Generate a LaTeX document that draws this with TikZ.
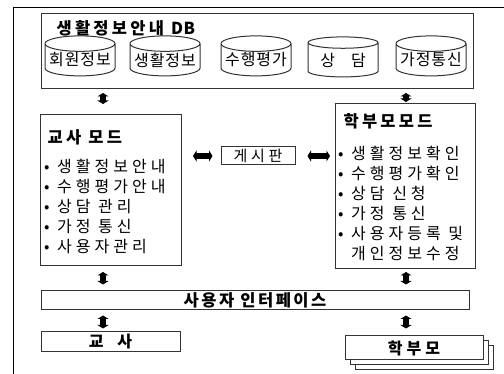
\documentclass[tikz,border=0pt]{standalone}
\usepackage{fontspec}
\setmainfont{Noto Sans CJK KR}
\newfontfamily\krtext[LetterSpace=25]{Noto Sans CJK KR}
\newfontfamily\krcyl[LetterSpace=6]{Noto Sans CJK KR}
\newfontfamily\krhead[LetterSpace=20]{Noto Sans CJK KR}
\newfontfamily\krbar[LetterSpace=15]{Noto Sans CJK KR}
\usetikzlibrary{shapes.geometric,arrows.meta,positioning}

\begin{document}
\begin{tikzpicture}[x=1pt,y=-1pt,
    box/.style={draw=black!80, line width=1pt, inner sep=0pt},
    cyl/.style={cylinder, shape border rotate=90, draw=black!80, line width=1pt,
        minimum width=70pt, minimum height=40pt, aspect=0.25, inner sep=0pt,
        font=\krcyl\fontsize{16}{16}\selectfont},
    head/.style={font=\krhead\bfseries\fontsize{16.5}{16.5}\selectfont},
    items/.style={align=left, inner sep=0pt, font=\krtext\fontsize{16}{20}\selectfont},
    dbl/.style={line width=5.5pt, {Triangle[width=11pt,length=3.5pt]}-{Triangle[width=11pt,length=3.5pt]}}]
    \useasboundingbox (0,0) rectangle (504,374);

    % 바깥 틀
    \draw[line width=1pt] (13,374) -- (13,8) -- (504,8);

    % 데이터베이스
    \node[box, minimum width=432pt, minimum height=75pt, anchor=north west] (db) at (41,13) {};
    \node[head, anchor=west] (dbtitle) at (53,28) {생활정보안내 {\addfontfeature{LetterSpace=2}DB}};
    \foreach \cx/\cname/\ctext in {80/member/회원정보, 165/life/생활정보, 256/perf/수행평가,
        343/consult/상\quad 담, 431/home/가정통신}
    {
        \node[cyl] (\cname) at (\cx,60) {\ctext};
    }

    % 교사 모드
    \node[box, minimum width=141pt, minimum height=151pt, anchor=north west] (teacher) at (40,114) {};
    \node[head, anchor=west] (teachertitle) at (44,137) {교사 모드};
    \node[items, anchor=north west] (teacheritems) at (44,159)
        {• 생활정보안내\\• 수행평가안내\\• 상담 관리\\• 가정 통신\\• 사용자관리};

    % 학부모 모드
    \node[box, minimum width=140pt, minimum height=165pt, anchor=north west] (parent) at (335,103) {};
    \node[head, anchor=west] (parenttitle) at (340,121) {학부모모드};
    \node[items, anchor=north west] (parentitems) at (338,146)
        {• 생활정보확인\\• 수행평가확인\\• 상담 신청\\• 가정 통신\\• 사용자등록 및\\\phantom{•} 개인정보수정};

    % 게시판
    \node[box, minimum width=74pt, minimum height=18pt, font=\krtext\fontsize{15}{15}\selectfont] (board) at (258,156) {게시판};

    % 사용자 인터페이스
    \node[box, minimum width=428pt, minimum height=19pt, font=\krbar\bfseries\fontsize{16.5}{16.5}\selectfont] (ui) at (255,300.5) {사용자 인터페이스};

    % 사용자
    \node[box, minimum width=139pt, minimum height=20pt, font=\krbar\bfseries\fontsize{16}{16}\selectfont] (teacheruser) at (110.5,342) {교\hspace{14pt}사};
    \node[box, fill=white, minimum width=138pt, minimum height=24pt] (parentback2) at (424,358) {};
    \node[box, fill=white, minimum width=138pt, minimum height=24pt] (parentback1) at (419,353) {};
    \node[box, fill=white, minimum width=138pt, minimum height=24pt, font=\krtext\bfseries\fontsize{16}{16}\selectfont] (parentuser) at (414,348) {학부모};

    % 화살표
    \coordinate (lx) at (103,0);
    \coordinate (rx) at (406,0);
    \draw[dbl, shorten <=4pt, shorten >=10pt] (lx |- db.south) -- (lx |- teacher.north);
    \draw[dbl, shorten <=4pt, shorten >=1pt] (rx |- db.south) -- (rx |- parent.north);
    \draw[dbl, shorten <=11pt, shorten >=8pt] (teacher.east |- board.west) -- (board.west);
    \draw[dbl, shorten <=12pt, shorten >=5pt] (board.east) -- (parent.west |- board.east);
    \draw[dbl, shorten <=6pt, shorten >=6pt] (lx |- teacher.south) -- (lx |- ui.north);
    \draw[dbl, shorten <=3pt, shorten >=6pt] (rx |- parent.south) -- (rx |- ui.north);
    \draw[dbl, shorten <=5pt, shorten >=3pt] (lx |- ui.south) -- (lx |- teacheruser.north);
    \draw[dbl, shorten <=5pt, shorten >=7pt] (rx |- ui.south) -- (rx |- parentuser.north);
\end{tikzpicture}
\end{document}
